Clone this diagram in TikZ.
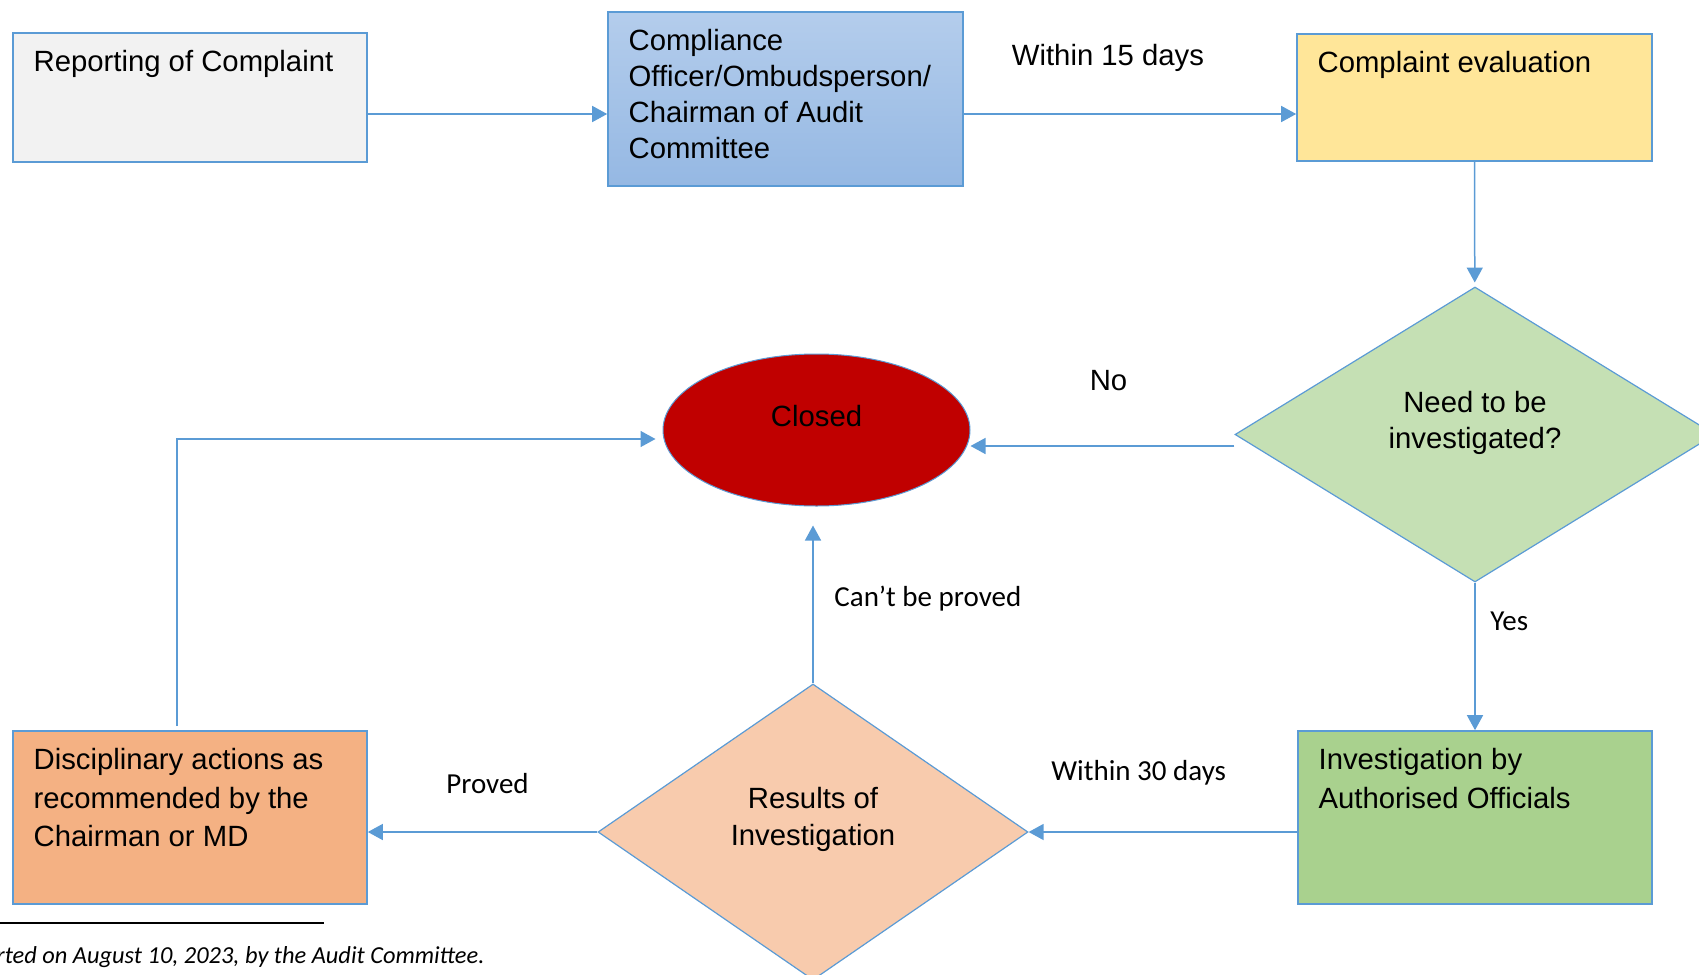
\documentclass[tikz,border=0pt]{standalone}
\usepackage{fontspec}
\setmainfont{Liberation Sans}
\newfontfamily\calibri{Carlito}
\usetikzlibrary{shapes,arrows.meta,positioning,calc}

\definecolor{lineblue}{HTML}{5B9BD5}
\definecolor{repgray}{HTML}{F2F2F2}
\definecolor{cmptop}{HTML}{B4CDEC}
\definecolor{cmpbot}{HTML}{95B8E3}
\definecolor{evalyellow}{HTML}{FFE699}
\definecolor{needgreen}{HTML}{C5E0B4}
\definecolor{closedred}{HTML}{C00000}
\definecolor{invgreen}{HTML}{A9D18E}
\definecolor{respeach}{HTML}{F8CBAD}
\definecolor{discorange}{HTML}{F4B183}

\begin{document}
\begin{tikzpicture}[x=0.5pt, y=-0.5pt,
  box/.style={rectangle, draw=lineblue, line width=0.8pt, minimum width=177pt, inner sep=0pt},
  boxtext/.style={anchor=north west, inner sep=0pt, xshift=10.5pt, yshift=-9pt, align=left, font=\fontsize{14.65}{18}\selectfont},
  dtext/.style={inner sep=0pt, align=center, font=\fontsize{14.65}{18}\selectfont},
  flow/.style={draw=lineblue, line width=0.75pt, -{Triangle[length=7.5pt,width=8pt]}},
  lbl/.style={inner sep=0pt, font=\fontsize{14.65}{18}\selectfont},
  lblc/.style={inner sep=0pt, font=\calibri\fontsize{14.5}{17}\selectfont}]
\useasboundingbox (0,0) rectangle (1699,975);

% boxes
\node[box, fill=repgray, minimum height=64.5pt,
  label={[boxtext]north west:Reporting of Complaint}] (rep) at (190,97.5) {};
\node[box, top color=cmptop, bottom color=cmpbot, minimum width=177.5pt, minimum height=87pt,
  label={[boxtext]north west:{Compliance\\Officer/Ombudsperson/\\Chairman of Audit\\Committee}}] (cmp) at (785.5,99) {};
\node[box, fill=evalyellow, minimum width=177.5pt, minimum height=63.5pt,
  label={[boxtext]north west:Complaint evaluation}] (eval) at (1474.5,97.5) {};
\node[diamond, draw=lineblue, line width=0.6pt, fill=needgreen, inner sep=0pt,
  minimum width=240pt, minimum height=147.5pt,
  label={[dtext, yshift=6pt]center:{Need to be\\investigated?}}] (need) at (1475,434.5) {};
\node[ellipse, draw=lineblue, line width=0.5pt, fill=closedred, inner sep=0pt,
  minimum width=153.5pt, minimum height=76pt,
  label={[dtext, yshift=6.8pt]center:Closed}] (closed) at (816.5,430) {};
\node[box, fill=invgreen, minimum height=86.5pt,
  label={[boxtext, font=\fontsize{14.65}{19.25}\selectfont]north west:{Investigation by\\Authorised Officials}}] (inv) at (1475,817.5) {};
\node[diamond, draw=lineblue, line width=0.6pt, fill=respeach, inner sep=0pt,
  minimum width=215pt, minimum height=148pt,
  label={[dtext, yshift=6.5pt, font=\fontsize{14.65}{18.5}\selectfont]center:{Results of\\Investigation}}] (res) at (813,832) {};
\node[box, fill=discorange, minimum height=86.5pt,
  label={[boxtext, font=\fontsize{14.65}{19.25}\selectfont]north west:{Disciplinary actions as\\recommended by the\\Chairman or MD}}] (disc) at (190,817.5) {};

% arrows
\draw[flow] ([yshift=-8.25pt]rep.east) -- ([yshift=-8.25pt]rep.east -| cmp.west);
\draw[flow] ([yshift=-7.5pt]cmp.east) -- ([yshift=-7.5pt]cmp.east -| eval.west);
\draw[flow, shorten >=2pt] (eval) -- (need);
\draw[flow] ([yshift=-5.75pt]need.west) -- ([yshift=-5.75pt]need.west -| closed.east);
\draw[flow] (need) -- (inv);
\draw[flow] (res.east -| inv.west) -- (res.east);
\draw[flow] (res.west) -- (res.west -| disc.east);
\draw[flow, shorten >=9.5pt] (res.north) -- (res.north |- closed.south);
\draw[flow, shorten <=2pt, shorten >=3.5pt] ([xshift=-6.5pt]disc.north) |- ([yshift=-4.5pt]closed.west);

% labels
\node[lbl, anchor=base] (w15) at (1108,65) {Within 15 days};
\node[lbl, anchor=base] (no) at (1108.5,390) {No};
\node[lblc, anchor=base west] (cant) at (834,606) {Can’t be proved};
\node[lblc, anchor=base west] (yes) at (1490,630) {Yes};
\node[lblc, anchor=base west] (w30) at (1051,780) {Within 30 days};
\node[lblc, anchor=base west] (proved) at (446,793) {Proved};

% footnote
\draw[line width=0.8pt] (0,923) -- (324,923);
\node[inner sep=0pt, anchor=base west, font=\calibri\itshape\fontsize{12.2}{14}\selectfont] (fn) at (-4,963) {rted on August 10, 2023, by the Audit Committee.};
\end{tikzpicture}
\end{document}
